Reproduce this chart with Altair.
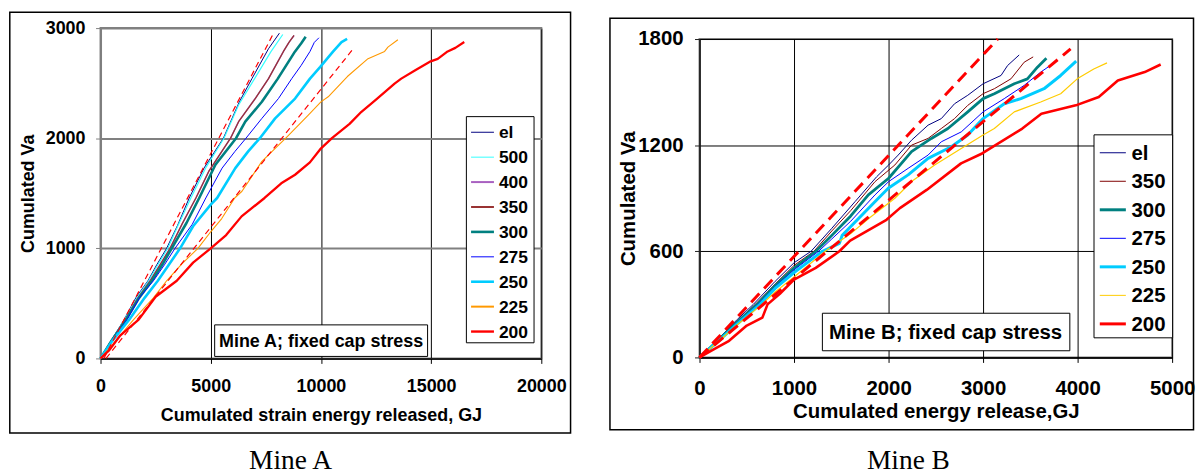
import altair as alt
import pandas as pd

SANS = "Liberation Sans"
SERIF = "Liberation Serif"

# ---------------- Mine A ----------------
A_SERIES = ["el", "500", "400", "350", "300", "275", "250", "225", "200"]
A_COLORS = ["#000080", "#33FFFF", "#A860C0", "#993333", "#008080", "#0000FF", "#00CCFF", "#FF9900", "#FF0000"]
A_WIDTHS = [1.0, 1.2, 1.5, 1.2, 2.6, 1.0, 2.6, 1.1, 2.3]
A_LEG_WIDTHS = [1.0, 1.0, 2.0, 2.0, 2.6, 1.0, 2.6, 2.0, 2.4]

A_EL_X = [0, 500, 1070, 1600, 2150, 2550, 3000, 3500, 4025, 4700, 5575, 6300, 6870, 7620, 8117]
A_EL_Y = [0, 168, 352, 550, 705, 850, 1000, 1210, 1457, 1730, 2000, 2331, 2541, 2812, 2954]
A_500_X = [0, 500, 1090, 1650, 2180, 2600, 3050, 3500, 4100, 4800, 5600, 6265, 6990, 7740, 8270]
A_500_Y = [0, 165, 352, 550, 705, 850, 1000, 1200, 1457, 1740, 2000, 2301, 2541, 2788, 2942]
A_400_X = [0, 500, 1120, 1700, 2250, 2700, 3155, 3700, 4327, 4910, 5900, 6265, 7019, 7622, 8300, 8550, 8780]
A_400_Y = [0, 163, 352, 550, 705, 850, 1000, 1220, 1457, 1698, 2000, 2150, 2360, 2541, 2788, 2870, 2933]
A_350_X = [0, 500, 1120, 1700, 2250, 2700, 3155, 3700, 4327, 4910, 5900, 6265, 7019, 7622, 8300, 8550, 8780]
A_350_Y = [0, 163, 352, 550, 705, 850, 1000, 1220, 1457, 1698, 2000, 2150, 2360, 2541, 2788, 2870, 2933]
A_300_X = [0, 500, 1160, 1750, 2330, 2800, 3230, 3900, 4477, 5212, 6150, 6568, 7322, 8044, 8827, 9100, 9309]
A_300_Y = [0, 160, 352, 550, 705, 850, 1000, 1230, 1457, 1759, 2000, 2150, 2331, 2541, 2788, 2860, 2921]
A_275_X = [0, 500, 1200, 1800, 2400, 2900, 3380, 4160, 4778, 5515, 6100, 6600, 7322, 8072, 8677, 9100, 9504, 9700, 9910]
A_275_Y = [0, 155, 352, 560, 705, 850, 1000, 1217, 1457, 1728, 1880, 2000, 2180, 2360, 2541, 2660, 2788, 2870, 2912]
A_250_X = [0, 500, 1300, 2000, 2600, 3100, 3610, 4200, 5000, 5290, 6116, 6700, 7230, 7923, 8827, 9504, 9970, 10558, 10935, 11188]
A_250_Y = [0, 150, 352, 550, 705, 850, 1000, 1200, 1397, 1457, 1728, 1880, 2000, 2180, 2360, 2541, 2647, 2788, 2873, 2903]
A_225_X = [0, 600, 1500, 2400, 3000, 3700, 4420, 5000, 5500, 6088, 6418, 7322, 8450, 9427, 10000, 10330, 11200, 12137, 12890, 13040, 13492]
A_225_Y = [0, 140, 352, 550, 705, 860, 1000, 1150, 1270, 1457, 1518, 1789, 2010, 2210, 2330, 2376, 2560, 2722, 2788, 2827, 2894]
A_200_X = [0, 400, 900, 1730, 2500, 3460, 4200, 5000, 5700, 6400, 7443, 8200, 8827, 9500, 9970, 10500, 11300, 11838, 12500, 13342, 13646, 14300, 14982, 15300, 15750, 16100, 16504]
A_200_Y = [0, 75, 210, 352, 560, 705, 870, 1000, 1120, 1290, 1457, 1590, 1668, 1780, 1900, 2000, 2130, 2240, 2350, 2496, 2541, 2620, 2698, 2720, 2788, 2820, 2873]

A_DASH1_X = [150, 7877]
A_DASH1_Y = [0, 2963]
A_DASH2_X = [250, 11490]
A_DASH2_Y = [0, 2818]

A_XTICKS = [0, 5000, 10000, 15000, 20000]
A_YTICKS = [0, 1000, 2000, 3000]

# ---------------- Mine B ----------------
B_SERIES = ["el", "350", "300", "275", "250", "225", "200"]
B_COLORS = ["#000080", "#800000", "#008080", "#0000FF", "#00CCFF", "#FFCC00", "#FF0000"]
B_WIDTHS = [1.0, 1.0, 2.8, 1.0, 3.0, 1.2, 2.6]
B_LEG_WIDTHS = [1.0, 1.0, 3.0, 1.0, 3.0, 1.0, 3.0]

B_EL_X = [0, 200, 400, 570, 800, 1000, 1180, 1400, 1646, 1875, 2001, 2102, 2243, 2418, 2558, 2698, 2838, 3000, 3190, 3259, 3382]
B_EL_Y = [0, 105, 215, 300, 430, 535, 600, 730, 881, 1022, 1088, 1144, 1228, 1313, 1350, 1434, 1482, 1547, 1594, 1650, 1710]
B_350_X = [0, 200, 400, 590, 800, 1000, 1210, 1400, 1600, 1857, 2067, 2243, 2418, 2558, 2698, 2838, 3000, 3119, 3295, 3435, 3530]
B_350_Y = [0, 100, 205, 300, 415, 520, 600, 715, 830, 994, 1088, 1200, 1238, 1294, 1350, 1425, 1491, 1519, 1575, 1669, 1699]
B_300_X = [0, 200, 400, 610, 800, 1000, 1230, 1400, 1600, 1786, 2001, 2243, 2453, 2628, 2838, 3000, 3119, 3330, 3469, 3575, 3670]
B_300_Y = [0, 98, 200, 300, 405, 505, 600, 690, 800, 919, 1013, 1163, 1238, 1294, 1388, 1463, 1491, 1547, 1575, 1641, 1691]
B_275_X = [0, 200, 400, 620, 800, 1000, 1260, 1400, 1600, 1857, 2001, 2207, 2418, 2558, 2769, 3000, 3224, 3435, 3610, 3779]
B_275_Y = [0, 95, 195, 300, 400, 495, 600, 670, 770, 919, 994, 1069, 1144, 1219, 1275, 1388, 1463, 1538, 1613, 1675]
B_250_X = [0, 200, 400, 640, 800, 1000, 1300, 1480, 1510, 1600, 1892, 1997, 2207, 2418, 2664, 2838, 3000, 3224, 3400, 3645, 3821, 3985]
B_250_Y = [0, 92, 190, 300, 390, 480, 600, 645, 690, 740, 900, 956, 1032, 1125, 1191, 1257, 1350, 1434, 1463, 1519, 1594, 1675]
B_225_X = [0, 200, 400, 660, 800, 1000, 1330, 1600, 1800, 2067, 2243, 2488, 2769, 3000, 3119, 3330, 3610, 3821, 3996, 4171, 4311]
B_225_Y = [0, 90, 185, 300, 370, 455, 600, 700, 790, 900, 994, 1088, 1181, 1257, 1294, 1388, 1444, 1491, 1575, 1631, 1665]
B_200_X = [0, 150, 313, 500, 665, 720, 850, 1000, 1230, 1480, 1594, 1978, 2120, 2403, 2767, 2990, 3415, 3617, 3981, 4224, 4426, 4710, 4879]
B_200_Y = [0, 45, 94, 180, 225, 300, 360, 440, 506, 600, 660, 778, 844, 947, 1097, 1153, 1294, 1378, 1425, 1472, 1566, 1613, 1656]

B_DASH1_X = [0, 3155]
B_DASH1_Y = [0, 1800]
B_DASH2_X = [0, 3926]
B_DASH2_Y = [0, 1744]

B_XTICKS = [0, 1000, 2000, 3000, 4000, 5000]
B_YTICKS = [0, 600, 1200, 1800]


def lines_frame(series, widths, xs, ys):
    rows = []
    for s, w, xl, yl in zip(series, widths, xs, ys):
        for i, (x, y) in enumerate(zip(xl, yl)):
            rows.append({"series": s, "w": w, "x": x, "y": y, "i": i})
    return pd.DataFrame(rows)


def dash_frame(xs, ys):
    rows = []
    for k, (xl, yl) in enumerate(zip(xs, ys)):
        for i, (x, y) in enumerate(zip(xl, yl)):
            rows.append({"line": k, "x": x, "y": y, "i": i})
    return pd.DataFrame(rows)


def legend_frame(series, widths):
    return pd.DataFrame({"series": series, "w": widths, "row": list(range(len(series)))})


ONE = pd.DataFrame({"k": [0]})


def panel(df, ddf, ldf, series, colors, p):
    cscale = alt.Scale(domain=series, range=colors)
    xscale = alt.Scale(domain=p["xdom"], nice=False, zero=True)
    yscale = alt.Scale(domain=p["ydom"], nice=False, zero=True)
    xaxis = alt.Axis(
        values=p["xticks"], format="d", title=p["xtitle"],
        labelFont=SANS, labelFontSize=p["fs"], labelFontWeight="bold", labelColor="black",
        labelBaseline="alphabetic", labelPadding=p["xlp"], labelFlush=False, labelOverlap=False,
        tickSize=5, tickColor="black", tickWidth=1,
        domainColor="black", domainWidth=1.5,
        grid=True, gridColor="black", gridWidth=1,
        titleFont=SANS, titleFontSize=p["fs"], titleFontWeight="bold", titleColor="black",
        titleBaseline="alphabetic", titleY=p["xty"],
    )
    yaxis = alt.Axis(
        values=p["yticks"], format="d", title="Cumulated Va",
        labelFont=SANS, labelFontSize=p["fs"], labelFontWeight="bold", labelColor="black",
        labelPadding=p["ylp"], labelFlush=False, labelOverlap=False,
        tickSize=5, tickColor=p["ydc"], tickWidth=1,
        domainColor=p["ydc"], domainWidth=p["ydw"],
        grid=True, gridColor=p["ygc"], gridWidth=p["ygw"],
        titleFont=SANS, titleFontSize=p["fs"], titleFontWeight="bold", titleColor="black",
        titleAngle=270, titleBaseline="alphabetic", titleX=p["ytx"], titleY=p["h"] / 2,
    )

    border = alt.Chart(ONE).mark_rect(fillOpacity=0, stroke="black", strokeWidth=1.5).encode(
        x=alt.value(p["bx"][0]), x2=alt.value(p["bx"][1]),
        y=alt.value(p["by"][0]), y2=alt.value(p["by"][1]))
    lines = alt.Chart(df).mark_line(strokeJoin="round").encode(
        x=alt.X("x:Q", scale=xscale, axis=xaxis),
        y=alt.Y("y:Q", scale=yscale, axis=yaxis),
        color=alt.Color("series:N", scale=cscale, legend=None),
        strokeWidth=alt.StrokeWidth("w:Q", scale=None),
        order="i:Q",
    )
    dashed = alt.Chart(ddf).mark_line(color="#FF0000", strokeWidth=p["dw"], strokeDash=p["dash"]).encode(
        x=alt.X("x:Q", scale=xscale), y=alt.Y("y:Q", scale=yscale), detail="line:N", order="i:Q")
    box = alt.Chart(ONE).mark_rect(fill="white", stroke="black", strokeWidth=1).encode(
        x=alt.value(p["ax"][0]), x2=alt.value(p["ax"][1]),
        y=alt.value(p["ay"][0]), y2=alt.value(p["ay"][1]))
    note = alt.Chart(ONE).mark_text(font=SANS, fontSize=p["fs"], fontWeight="bold", color="black",
                                    align="center", baseline="alphabetic").encode(
        x=alt.value(p["tx"]), y=alt.value(p["ty"]), text=alt.value(p["note"]))
    caption = alt.Chart(ONE).mark_text(font=SERIF, fontSize=27.5, color="black",
                                       align="center", baseline="alphabetic").encode(
        x=alt.value(p["cx"]), y=alt.value(p["cy"]), text=alt.value(p["caption"]))
    main = alt.layer(border, lines, dashed, box, note, caption)

    # legend drawn as marks
    rowscale = alt.Scale(domain=[0, len(series) - 1], range=p["lrows"], nice=False, zero=False)
    lbox = alt.Chart(ONE).mark_rect(fill="white", stroke="black", strokeWidth=1).encode(
        x=alt.value(p["lbx"][0]), x2=alt.value(p["lbx"][1]),
        y=alt.value(p["lby"][0]), y2=alt.value(p["lby"][1]))
    lsym = alt.Chart(ldf).mark_rule().encode(
        x=alt.value(p["lsx"][0]), x2=alt.value(p["lsx"][1]),
        y=alt.Y("row:Q", scale=rowscale, axis=None),
        color=alt.Color("series:N", scale=cscale, legend=None),
        strokeWidth=alt.StrokeWidth("w:Q", scale=None))
    ltxt = alt.Chart(ldf).mark_text(font=SANS, fontSize=p["lfs"], fontWeight="bold", color="black",
                                    align="left", baseline="middle", dy=1).encode(
        x=alt.value(p["ltx"]), y=alt.Y("row:Q", scale=rowscale, axis=None), text="series:N")
    leg = alt.layer(lbox, lsym, ltxt)

    return alt.layer(main, leg).resolve_scale(y="independent").properties(width=p["w"], height=p["h"])


dfa = lines_frame(A_SERIES, A_WIDTHS,
                  [A_EL_X, A_500_X, A_400_X, A_350_X, A_300_X, A_275_X, A_250_X, A_225_X, A_200_X],
                  [A_EL_Y, A_500_Y, A_400_Y, A_350_Y, A_300_Y, A_275_Y, A_250_Y, A_225_Y, A_200_Y])
dda = dash_frame([A_DASH1_X, A_DASH2_X], [A_DASH1_Y, A_DASH2_Y])
lda = legend_frame(A_SERIES, A_LEG_WIDTHS)
dfb = lines_frame(B_SERIES, B_WIDTHS,
                  [B_EL_X, B_350_X, B_300_X, B_275_X, B_250_X, B_225_X, B_200_X],
                  [B_EL_Y, B_350_Y, B_300_Y, B_275_Y, B_250_Y, B_225_Y, B_200_Y])
ddb = dash_frame([B_DASH1_X, B_DASH2_X], [B_DASH1_Y, B_DASH2_Y])
ldb = legend_frame(B_SERIES, B_LEG_WIDTHS)

pa = dict(w=443, h=332, xdom=[0, 20000], ydom=[0, 3000], xticks=A_XTICKS, yticks=A_YTICKS,
          xtitle="Cumulated strain energy released, GJ", fs=18, xlp=28.4, xty=62.5,
          ylp=10.6, ytx=-67, ydc="#808080", ydw=2, ygc="#808080", ygw=2,
          lbx=[367.7, 435.7], lby=[89, 316.3], lrows=[104.7, 305], lsx=[372.4, 395.4], ltx=400.4, lfs=17.5,
          dw=1.2, dash=[6, 4],
          bx=[-91.2, 472.4], by=[-16, 407],
          ax=[114.7, 328.7], ay=[298.3, 330], tx=221.7, ty=320.6, note="Mine A; fixed cap stress",
          cx=190.9, cy=443.5, caption="Mine A")
pb = dict(w=475, h=320, xdom=[0, 5000], ydom=[0, 1800], xticks=B_XTICKS, yticks=B_YTICKS,
          xtitle="Cumulated energy release,GJ", fs=20.5, xlp=32.6, xty=60,
          ylp=11.5, ytx=-65.8, ydc="#202020", ydw=1.5, ygc="black", ygw=1,
          lbx=[396.5, 475.5], lby=[96.3, 300.3], lrows=[114.3, 286.3], lsx=[402.3, 428.5], ltx=434.2, lfs=20.5,
          dw=3, dash=[12, 7],
          bx=[-90, 496.5], by=[-21, 392.6],
          ax=[123.5, 372.2], ay=[275.6, 313.3], tx=247.3, ty=301.6, note="Mine B; fixed cap stress",
          cx=210, cy=432, caption="Mine B")

spacer = alt.Chart(ONE).mark_rect(opacity=0).encode(
    x=alt.value(0), x2=alt.value(1), y=alt.value(0), y2=alt.value(1)
).properties(width=475, height=10.7, view=alt.ViewBackground(strokeOpacity=0))

right = alt.vconcat(spacer, panel(dfb, ddb, ldb, B_SERIES, B_COLORS, pb), spacing=0, bounds="flush")

chart = alt.hconcat(panel(dfa, dda, lda, A_SERIES, A_COLORS, pa), right,
                    spacing=35).resolve_scale(color="independent", x="independent", y="independent").properties(
    padding={"left": 0, "top": 1, "right": 0, "bottom": 0}, background="white"
).configure_view(stroke="#808080", strokeWidth=2)

chart.save("out.html", embed_options={"renderer": "svg", "actions": False})
